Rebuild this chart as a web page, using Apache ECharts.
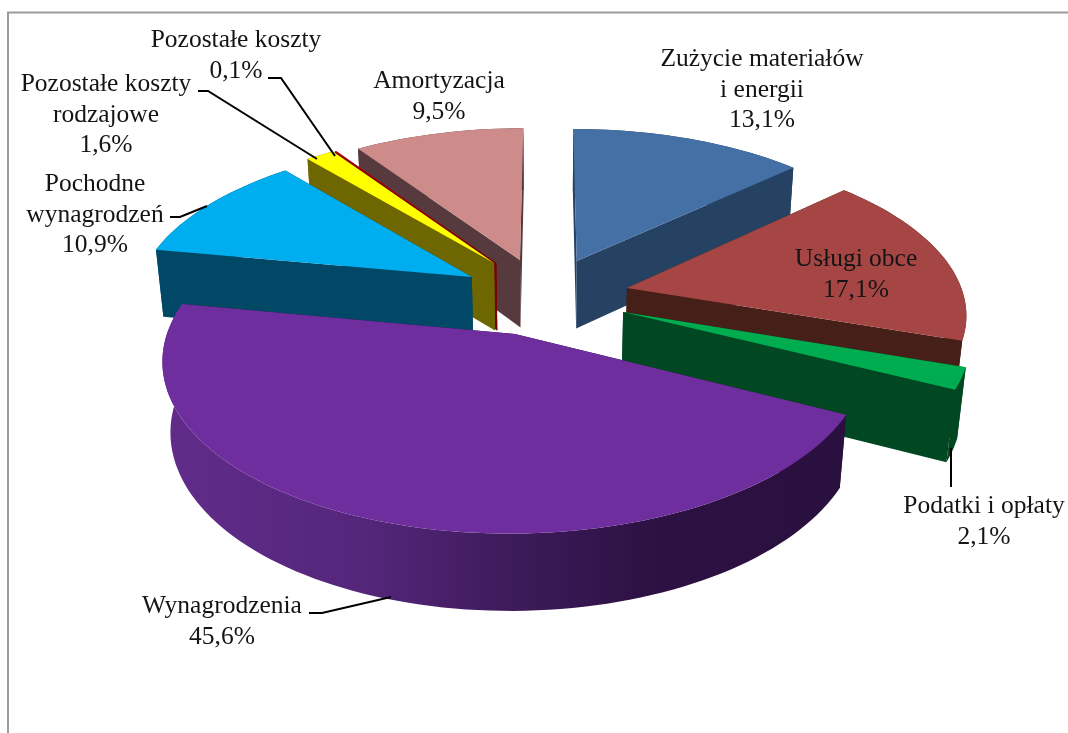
<!DOCTYPE html>
<html>
<head>
<meta charset="utf-8">
<style>html,body{margin:0;padding:0;background:#fff}#c{width:1068px;height:733px}</style>
<script src="https://cdn.jsdelivr.net/npm/echarts@6/dist/echarts.min.js"></script>
</head>
<body>
<div id="c"></div>
<script>
// ---- data ----
var categories = ['Zużycie materiałów\ni energii','Usługi obce','Podatki i opłaty','Wynagrodzenia','Pochodne\nwynagrodzeń','Pozostałe koszty\nrodzajowe','Pozostałe koszty','Amortyzacja'];
var values = [13.1,17.1,2.1,45.6,10.9,1.6,0.1,9.5];

// ---- styling / layout ----
var topColors  = ['#4470a6','#a54644','#00ac50','#6f2e9e','#00aeef','#ffff00','#c00000','#cd8b89'];
var wallColors = ['#264263','#451f18','#004722','#2a103f','#004866','#6e6600','#7a0000','#573a3d'];
var explodeX = [0.088,0.236,0.220,-0.095,-0.230,-0.165,-0.158,-0.086];
var explodeY = [0.188,0.013,-0.137,-0.268,0.083,0.175,0.175,0.195];
var drawOrder = [7,0,6,5,4,1,2,3];
var labelX = [762,856,984,222,95,106,236,439];
var labelY = [90,275,522,622,215,115,56,97];
var cam = {cx:548, cy:290, A:335, B:158, k:0.14, m:0.02, depth:70};
var leaders = [
  [[268,78],[281,78],[335,156]],
  [[198,91],[208,91],[317,159]],
  [[170,217],[180,217],[207,206]],
  [[309,613],[322,613],[391,597]],
  [[951,448],[951,487]]
];

function project(X, Y, H) {
  var s = 1 / (1 + cam.k * Y + cam.m * H);
  return [cam.cx + cam.A * X * s, cam.cy + (-cam.B * Y + cam.depth * H) * s];
}
var total = values.reduce(function (a, b) { return a + b; }, 0);
var starts = [], acc = 0;
values.forEach(function (v) { starts.push(acc / total * 2 * Math.PI); acc += v; });

function renderSlice(params, api) {
  var i = api.value(0), v = api.value(1);
  var a0 = starts[i], a1 = a0 + v / total * 2 * Math.PI;
  var ex = explodeX[i], ey = explodeY[i];
  var n = Math.max(2, Math.ceil((a1 - a0) / 0.03));
  var rim = [];
  for (var j = 0; j <= n; j++) {
    var a = a0 + (a1 - a0) * j / n;
    rim.push([ex + Math.sin(a), ey + Math.cos(a)]);
  }
  var up = function (p) { return project(p[0], p[1], 0); };
  var dn = function (p) { return project(p[0], p[1], 1); };
  var apex = [ex, ey];
  var first = rim[0], last = rim[n];
  var wall = wallColors[i];
  var outerFill = i === 3 ? new echarts.graphic.LinearGradient(0, 0, 1, 0, [
    {offset:0, color:'#612c8a'},{offset:0.3, color:'#54267a'},{offset:0.5, color:'#3f1b5c'},{offset:0.72, color:'#2c1142'},{offset:1, color:'#2a103f'}
  ]) : wall;
  var outer = rim.map(up).concat(rim.slice().reverse().map(dn));
  return {type:'group', children:[
    {type:'polygon', shape:{points:[up(apex),up(first),dn(first),dn(apex)]}, style:{fill:wall}},
    {type:'polygon', shape:{points:[up(apex),up(last),dn(last),dn(apex)]}, style:{fill:wall}},
    {type:'polygon', shape:{points:outer}, style:{fill:outerFill}},
    {type:'polygon', shape:{points:[up(apex)].concat(rim.map(up))}, style:{fill:topColors[i]}}
  ]};
}

var pct = function (v) { return v.toFixed(1).replace('.', ',') + '%'; };
var textEls = categories.map(function (c, i) {
  return {type:'text', x:labelX[i], y:labelY[i], silent:true, z:10,
    style:{text:c + '\n' + pct(values[i]), fill:'#141414', font:'25.5px "Liberation Serif"', lineHeight:30.5, align:'center', verticalAlign:'middle'}};
});
var lineEls = leaders.map(function (pts) {
  return {type:'polyline', silent:true, z:9, shape:{points:pts}, style:{stroke:'#000', lineWidth:2, fill:null}};
});
var frame = {type:'polyline', silent:true, z:0, shape:{points:[[8,733],[8,12.5],[1068,12.5]]}, style:{stroke:'#9c9c9c', lineWidth:2, fill:null}};

var chart = echarts.init(document.getElementById('c'), null, {renderer:'canvas'});
chart.setOption({
  animation:false,
  backgroundColor:'#fff',
  graphic:{elements:[frame].concat(lineEls, textEls)},
  series:[{
    type:'custom', coordinateSystem:'none', silent:true, z:5,
    renderItem:renderSlice,
    data:drawOrder.map(function (i) { return [i, values[i]]; })
  }]
});
</script>
</body>
</html>
